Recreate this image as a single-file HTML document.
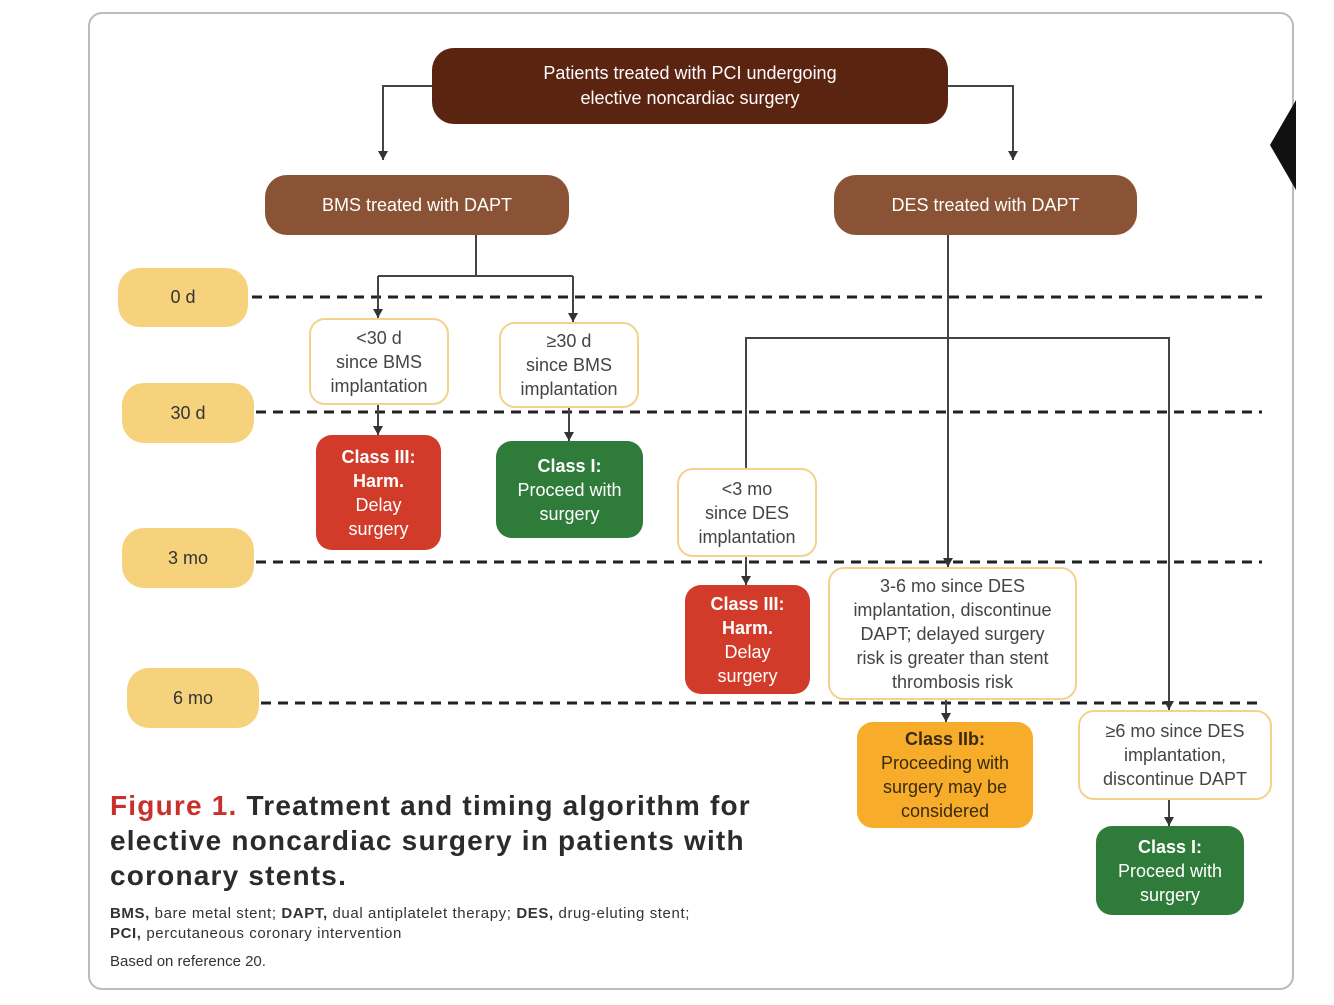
<!DOCTYPE html>
<html><head><meta charset="utf-8"><style>
body{margin:0;width:1334px;height:1005px;background:#fff;position:relative;overflow:hidden;font-family:"Liberation Sans",sans-serif}
.b{position:absolute;display:flex;align-items:center;justify-content:center;text-align:center;box-sizing:border-box}
.t{background:#f7d27c;border-radius:22px;color:#333;font-size:18px}
.w{background:#fff;border:2px solid #f3d28e;border-radius:16px;color:#444;font-size:18px;line-height:24px}
.c{border-radius:16px;color:#fff;font-size:18px;line-height:24px}
.red{background:#d23b2a}.grn{background:#2f7b3a}.org{background:#f7ad2a;color:#3a2a10}
</style></head><body>
<div style="position:absolute;left:88px;top:12px;width:1206px;height:978px;border:2px solid #bbb;border-radius:14px;box-sizing:border-box"></div>
<div style="position:absolute;left:1270px;top:100px;width:0;height:0;border-top:45px solid transparent;border-bottom:45px solid transparent;border-right:26px solid #111"></div>
<svg style="position:absolute;left:0;top:0" width="1334" height="1005">
<defs><marker id="a" markerWidth="10" markerHeight="10" refX="9" refY="5" orient="auto" markerUnits="userSpaceOnUse"><path d="M0,0 L9,5 L0,10z" fill="#333"/></marker></defs>
<g stroke="#222" stroke-width="3" stroke-dasharray="10,7">
<line x1="252" y1="297" x2="1262" y2="297"/><line x1="256" y1="412" x2="1262" y2="412"/>
<line x1="256" y1="562" x2="1262" y2="562"/><line x1="261" y1="703" x2="1262" y2="703"/></g>
<g stroke="#444" stroke-width="2" fill="none">
<polyline points="432,86 383,86 383,160" marker-end="url(#a)"/>
<polyline points="948,86 1013,86 1013,160" marker-end="url(#a)"/>
<polyline points="476,235 476,276"/><polyline points="378,276 573,276"/>
<line x1="378" y1="276" x2="378" y2="318" marker-end="url(#a)"/>
<line x1="573" y1="276" x2="573" y2="322" marker-end="url(#a)"/>
<line x1="378" y1="405" x2="378" y2="435" marker-end="url(#a)"/>
<line x1="569" y1="408" x2="569" y2="441" marker-end="url(#a)"/>
<line x1="948" y1="235" x2="948" y2="567" marker-end="url(#a)"/>
<polyline points="746,468 746,338 1169,338 1169,710" marker-end="url(#a)"/>
<line x1="746" y1="557" x2="746" y2="585" marker-end="url(#a)"/>
<line x1="946" y1="700" x2="946" y2="722" marker-end="url(#a)"/>
<line x1="1169" y1="800" x2="1169" y2="826" marker-end="url(#a)"/>
</g></svg>
<div class="b" style="left:432px;top:48px;width:516px;height:76px;background:#5b2410;border-radius:22px;color:#fff;font-size:18px;line-height:25px">Patients treated with PCI undergoing<br>elective noncardiac surgery</div>
<div class="b" style="left:265px;top:175px;width:304px;height:60px;background:#8b5335;border-radius:22px;color:#fff;font-size:18px">BMS treated with DAPT</div>
<div class="b" style="left:834px;top:175px;width:303px;height:60px;background:#8b5335;border-radius:22px;color:#fff;font-size:18px">DES treated with DAPT</div>
<div class="b t" style="left:118px;top:268px;width:130px;height:59px">0 d</div>
<div class="b t" style="left:122px;top:383px;width:132px;height:60px">30 d</div>
<div class="b t" style="left:122px;top:528px;width:132px;height:60px">3 mo</div>
<div class="b t" style="left:127px;top:668px;width:132px;height:60px">6 mo</div>
<div class="b w" style="left:309px;top:318px;width:140px;height:87px">&lt;30 d<br>since BMS<br>implantation</div>
<div class="b w" style="left:499px;top:322px;width:140px;height:86px">≥30 d<br>since BMS<br>implantation</div>
<div class="b c red" style="left:316px;top:435px;width:125px;height:115px"><div><b>Class III:<br>Harm.</b><br>Delay<br>surgery</div></div>
<div class="b c grn" style="left:496px;top:441px;width:147px;height:97px"><div><b>Class I:</b><br>Proceed with<br>surgery</div></div>
<div class="b w" style="left:677px;top:468px;width:140px;height:89px">&lt;3 mo<br>since DES<br>implantation</div>
<div class="b c red" style="left:685px;top:585px;width:125px;height:109px"><div><b>Class III:<br>Harm.</b><br>Delay<br>surgery</div></div>
<div class="b w" style="left:828px;top:567px;width:249px;height:133px">3-6 mo since DES<br>implantation, discontinue<br>DAPT; delayed surgery<br>risk is greater than stent<br>thrombosis risk</div>
<div class="b c org" style="left:857px;top:722px;width:176px;height:106px"><div><b>Class IIb:</b><br>Proceeding with<br>surgery may be<br>considered</div></div>
<div class="b w" style="left:1078px;top:710px;width:194px;height:90px">≥6 mo since DES<br>implantation,<br>discontinue DAPT</div>
<div class="b c grn" style="left:1096px;top:826px;width:148px;height:89px"><div><b>Class I:</b><br>Proceed with<br>surgery</div></div>
<div style="position:absolute;left:110px;top:788px;font-size:28px;letter-spacing:1.2px;font-weight:bold;line-height:35px;color:#2b2b2b;white-space:nowrap"><span style="color:#c9302c">Figure 1.</span> Treatment and timing algorithm for<br>elective noncardiac surgery in patients with<br>coronary stents.</div>
<div style="position:absolute;left:110px;top:904px;font-size:15px;letter-spacing:0.6px;line-height:20px;color:#333;white-space:nowrap"><b>BMS,</b> bare metal stent; <b>DAPT,</b> dual antiplatelet therapy; <b>DES,</b> drug-eluting stent;<br><b>PCI,</b> percutaneous coronary intervention</div>
<div style="position:absolute;left:110px;top:953px;font-size:15px;color:#333">Based on reference 20.</div>
</body></html>
